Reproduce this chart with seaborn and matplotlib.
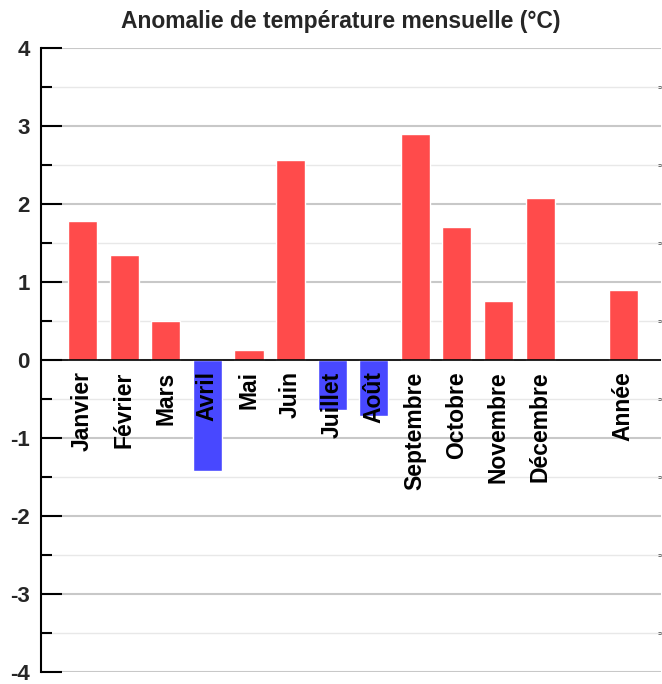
import matplotlib
matplotlib.use("Agg")
import matplotlib.pyplot as plt
import seaborn as sns
import pandas as pd
from matplotlib.ticker import MultipleLocator

# --- données ---
mois = ['Janvier', 'Février', 'Mars', 'Avril', 'Mai', 'Juin', 'Juillet', 'Août',
        'Septembre', 'Octobre', 'Novembre', 'Décembre', 'Année']
positions = [1, 2, 3, 4, 5, 6, 7, 8, 9, 10, 11, 12, 14]
anomalies = [1.78, 1.35, 0.50, -1.42, 0.13, 2.56, -0.65, -0.72, 2.90, 1.70, 0.76, 2.08, 0.89]
y_ticks = [-4, -3, -2, -1, 0, 1, 2, 3, 4]

sns.set_theme(style="white")
plt.rcParams['font.family'] = ['Liberation Sans', 'DejaVu Sans']

df = pd.DataFrame({'pos': positions, 'mois': mois, 'val': anomalies})
df['signe'] = ['pos' if v >= 0 else 'neg' for v in df['val']]

fig = plt.figure(figsize=(6.62, 6.84), dpi=100)
ax = fig.add_axes([0.062, 0.018, 0.936, 0.912])

sns.barplot(data=df, x='pos', y='val', hue='signe', native_scale=True,
            palette={'pos': '#ff4b4b', 'neg': '#4848ff'}, width=0.7,
            dodge=False, legend=False, ax=ax, saturation=1)

ax.set_xlim(0, 14.9)
ax.set_ylim(-4, 4)
ax.yaxis.set_major_locator(MultipleLocator(1))
ax.yaxis.set_minor_locator(MultipleLocator(0.5))
ax.set_yticks(y_ticks)
ax.set_yticklabels([str(t) for t in y_ticks], fontsize=16, fontweight='bold')
ax.set_xticks([])
ax.set_xlabel('')
ax.set_ylabel('')

ax.grid(True, which='major', axis='y', color='#c8c8c8', linewidth=1.5, zorder=0)
ax.grid(True, which='minor', axis='y', color='#e8e8e8', linewidth=1, zorder=0)
ax.set_axisbelow(True)
ax.axhline(0, color='black', linewidth=1.2, zorder=3)

for s in ['top', 'right', 'bottom']:
    ax.spines[s].set_visible(False)
ax.spines['left'].set_color('black')
ax.spines['left'].set_linewidth(1.5)

ax.tick_params(axis='y', which='major', direction='in', length=15, width=1.5,
               color='black', pad=8, left=True)
ax.tick_params(axis='y', which='minor', direction='in', length=8, width=1.5,
               color='black', left=True, right=False)
# petites marques à droite
ax2 = ax.secondary_yaxis('right')
ax2.set_yticks([-3.5, -2.5, -1.5, -0.5, 0.5, 1.5, 2.5, 3.5])
ax2.tick_params(direction='in', length=2, width=2, color='#444444', labelright=False)
ax2.spines['right'].set_visible(False)

for p, m in zip(positions, mois):
    ax.text(p, -0.15, m, rotation=90, ha='center', va='top',
            fontsize=16.5, fontweight='bold', color='black', zorder=4)

fig.suptitle('Anomalie de température mensuelle (°C)', fontsize=16.5,
             fontweight='bold', x=0.515, y=0.985)

fig.savefig('out.png', dpi=100)
